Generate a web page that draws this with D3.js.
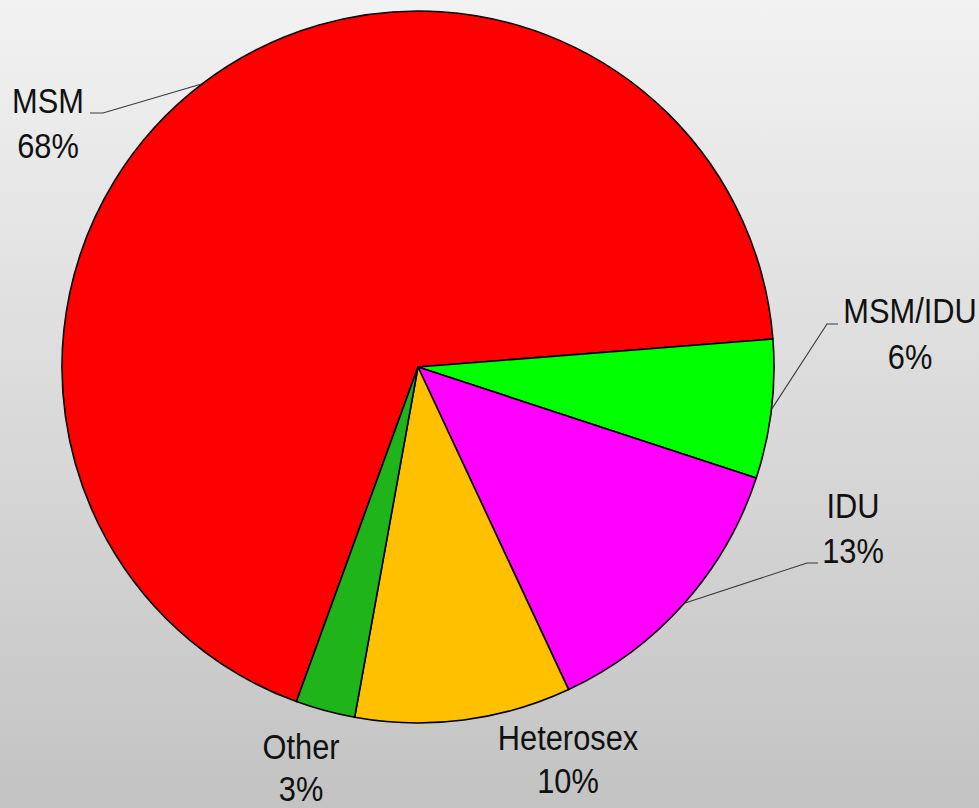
<!DOCTYPE html>
<html>
<head>
<meta charset="utf-8">
<script src="https://cdn.jsdelivr.net/npm/d3@7"></script>
<style>
  html, body { margin: 0; padding: 0; overflow: hidden; }
  svg { display: block; }
</style>
</head>
<body>
<svg id="chart"></svg>
<script>
const width = 979;
const height = 808;

// data
const categories = ["MSM", "MSM/IDU", "IDU", "Heterosex", "Other"];
const values = [68.2, 6.3, 13.0, 9.8, 2.7];
const labels = ["68%", "6%", "13%", "10%", "3%"];
const colors = ["#ff0000", "#00ff00", "#ff00ff", "#ffc000", "#1fb51a"];

// label layout (centre x, baseline of first line, line gap, leader elbow)
const labelPos = [
    {x: 48, y: 113, gap: 45, elbow: [[90, 113], [103, 113]]},
    {x: 910, y: 323, gap: 46, elbow: [[838, 324], [827, 324]]},
    {x: 853, y: 518, gap: 45, elbow: [[818, 563], [807, 563]]},
    {x: 568, y: 750, gap: 43, elbow: null},
    {x: 301, y: 759, gap: 42, elbow: null}
];

const cx = 418, cy = 367, r = 356;

const svg = d3.select('#chart').attr('width', width).attr('height', height);

const defs = svg.append('defs');
const grad = defs.append('linearGradient')
    .attr('id', 'bg').attr('x1', 0).attr('y1', 0).attr('x2', 0).attr('y2', 1);
grad.append('stop').attr('offset', '0%').attr('stop-color', '#f2f2f2');
grad.append('stop').attr('offset', '100%').attr('stop-color', '#c3c3c3');

svg.append('rect')
    .attr('width', width).attr('height', height)
    .attr('fill', 'url(#bg)');

const start = -160.03 * Math.PI / 180;
const pie = d3.pie().sort(null).value(d => d)
    .startAngle(start).endAngle(start + 2 * Math.PI);
const arcs = pie(values);
const arc = d3.arc().innerRadius(0).outerRadius(r);

const g = svg.append('g').attr('transform', `translate(${cx},${cy})`);

// Slices
g.selectAll('path.slice')
    .data(arcs)
    .join('path')
    .attr('d', arc)
    .attr('fill', (d, i) => colors[i])
    .attr('stroke', '#000')
    .attr('stroke-width', 1.6)
    .attr('stroke-linejoin', 'round')
    .classed('slice', true);

// Leader lines
const edge = d => {
    const a = (d.startAngle + d.endAngle) / 2;
    return [cx + r * Math.sin(a), cy - r * Math.cos(a)];
};
svg.append('g')
    .selectAll('polyline')
    .data(arcs.filter((d, i) => labelPos[i].elbow))
    .join('polyline')
    .attr('points', d => {
        const p = labelPos[d.index].elbow;
        return [p[0], p[1], edge(d)].map(q => q.join(',')).join(' ');
    })
    .attr('fill', 'none')
    .attr('stroke', '#3a3a3a')
    .attr('stroke-width', 1.1);

// Labels
const lab = svg.append('g')
    .selectAll('g.lab')
    .data(arcs)
    .join('g')
    .attr('transform', d => `translate(${labelPos[d.index].x},${labelPos[d.index].y}) scale(0.88,1)`)
    .classed('lab', true);

lab.append('text')
    .attr('text-anchor', 'middle')
    .attr('font-family', 'Liberation Sans, Arial, sans-serif')
    .attr('font-size', 35)
    .attr('fill', '#111')
    .text(d => categories[d.index]);

lab.append('text')
    .attr('text-anchor', 'middle')
    .attr('y', d => labelPos[d.index].gap)
    .attr('font-family', 'Liberation Sans, Arial, sans-serif')
    .attr('font-size', 35)
    .attr('fill', '#111')
    .text(d => labels[d.index]);
</script>
</body>
</html>
